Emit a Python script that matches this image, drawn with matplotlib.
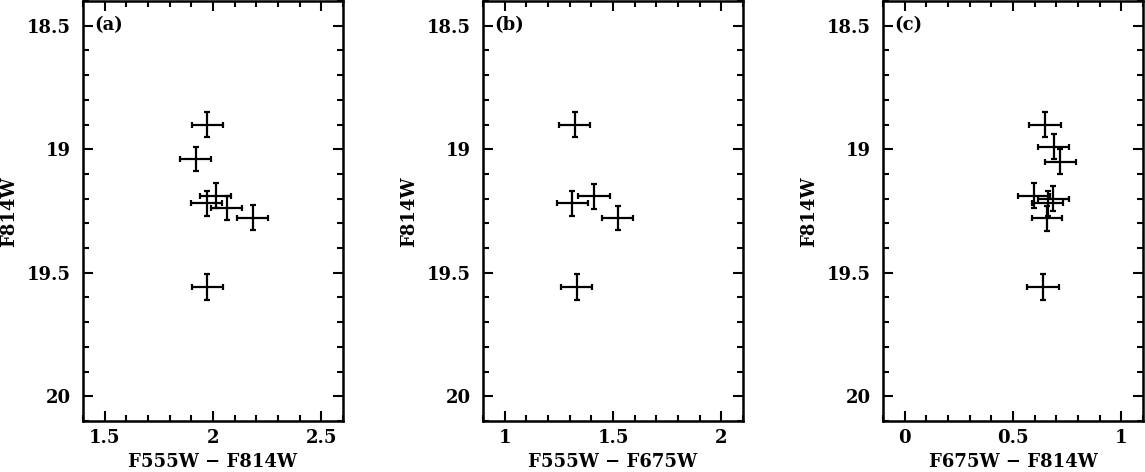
import matplotlib
matplotlib.use("Agg")
import matplotlib.pyplot as plt
from matplotlib.ticker import MultipleLocator, FormatStrFormatter

# Panel (a): F555W - F814W
a_color = [1.973, 1.921, 2.012, 1.971, 2.064, 2.183, 1.973]
a_mag   = [18.90, 19.04, 19.188, 19.219, 19.237, 19.277, 19.558]
a_xerr  = [0.072, 0.072, 0.072, 0.072, 0.071, 0.072, 0.072]
a_yerr  = [0.050, 0.050, 0.050, 0.051, 0.049, 0.050, 0.051]

# Panel (b): F555W - F675W
b_color = [1.323, 1.412, 1.312, 1.522, 1.332]
b_mag   = [18.90, 19.19, 19.219, 19.278, 19.558]
b_xerr  = [0.073, 0.072, 0.072, 0.072, 0.072]
b_yerr  = [0.050, 0.050, 0.051, 0.050, 0.051]

# Panel (c): F675W - F814W
c_color = [0.648, 0.688, 0.718, 0.597, 0.686, 0.660, 0.657, 0.638]
c_mag   = [18.90, 18.99, 19.05, 19.188, 19.200, 19.219, 19.279, 19.558]
c_xerr  = [0.072, 0.072, 0.072, 0.072, 0.072, 0.071, 0.070, 0.072]
c_yerr  = [0.050, 0.050, 0.050, 0.050, 0.050, 0.051, 0.050, 0.051]

panel_labels = ["(a)", "(b)", "(c)"]
x_labels = ["F555W \u2212 F814W", "F555W \u2212 F675W", "F675W \u2212 F814W"]
y_label = "F814W"
x_limits = [(1.4, 2.6), (0.9, 2.1), (-0.1, 1.1)]
y_limits = (20.1, 18.4)
x_major = [0.5, 0.5, 0.5]
x_minor = [0.1, 0.1, 0.1]
y_ticks = [18.5, 19, 19.5, 20]
y_ticklabels = ["18.5", "19", "19.5", "20"]

plt.rcParams['font.family'] = ['DejaVu Serif']
plt.rcParams['font.weight'] = 'bold'

W, H = 1145, 472
fig = plt.figure(figsize=(W / 100, H / 100), dpi=100)

lefts = [83, 483, 883]
ax_w = 260
ax_top = 1
ax_bot = 421

data = [(a_color, a_mag, a_xerr, a_yerr),
        (b_color, b_mag, b_xerr, b_yerr),
        (c_color, c_mag, c_xerr, c_yerr)]

for i in range(3):
    ax = fig.add_axes([lefts[i] / W, (H - ax_bot) / H, ax_w / W, (ax_bot - ax_top) / H])
    xc, ym, xe, ye = data[i]
    ax.errorbar(xc, ym, xerr=xe, yerr=ye, fmt='none', ecolor='black',
                elinewidth=1.6, capsize=2.2, capthick=1.6)
    ax.set_xlim(*x_limits[i])
    ax.set_ylim(*y_limits)
    ax.xaxis.set_major_locator(MultipleLocator(x_major[i]))
    ax.xaxis.set_minor_locator(MultipleLocator(x_minor[i]))
    ax.xaxis.set_major_formatter(FormatStrFormatter('%g'))
    ax.set_yticks(y_ticks)
    ax.set_yticklabels(y_ticklabels)
    ax.yaxis.set_minor_locator(MultipleLocator(0.1))
    ax.tick_params(which='both', direction='in', top=True, right=True,
                   width=1.5, colors='black')
    ax.tick_params(which='major', length=7.5)
    ax.tick_params(which='minor', length=4)
    ax.tick_params(axis='y', which='major', pad=9, labelsize=13)
    ax.tick_params(axis='x', which='major', pad=6, labelsize=13)
    for lab in ax.get_xticklabels() + ax.get_yticklabels():
        lab.set_fontweight('bold')
    for s in ax.spines.values():
        s.set_linewidth(1.8)
    ax.set_xlabel(x_labels[i], fontsize=13, fontweight='bold', labelpad=4)
    fig.text((lefts[i] - 74) / W, 1 - 212 / H, y_label, rotation=90,
             fontsize=13, fontweight='bold', ha='center', va='center')
    ax.text(0.045, 0.943, panel_labels[i], transform=ax.transAxes,
            fontsize=13, fontweight='bold', ha='left', va='center')

fig.savefig("out.png", dpi=100)
